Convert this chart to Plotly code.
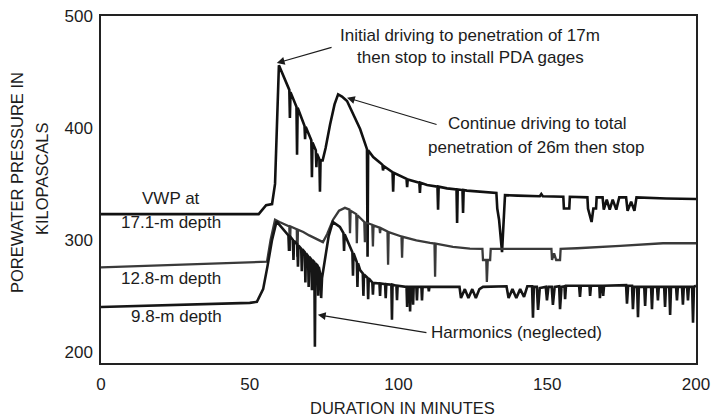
import plotly.graph_objects as go

# ---------------- data ----------------
x_ticks = [0, 50, 100, 150, 200]
y_ticks = [200, 300, 400, 500]

# VWP at 17.1-m depth
t17 = [0, 53, 55.5, 57.5, 58.5, 59.8,
       63.3, 63.5, 63.7, 65.7, 65.9, 66.1, 68.4, 68.6, 68.8, 70.7, 70.9, 71.1,
       72.2, 72.4, 72.6, 73.4, 73.6, 73.8, 74.5, 75.5, 77, 78.5, 79.7,
       81, 82.7, 84.7, 87.1, 89.4, 89.6, 89.8, 91.5, 93.8, 94.6, 94.8, 95,
       98, 98.2, 98.4, 102.7, 102.9, 103.1, 107, 107.2, 107.4, 109.6,
       113.1, 113.3, 113.5, 116.3, 119.5, 119.7, 119.9, 121.5, 121.7, 121.9,
       123, 130.8, 132.9, 133.2, 133.8, 134.8, 135.3, 135.8, 140, 147.5, 148, 148.5,
       155.4, 155.6, 157.4, 157.6, 163.5, 163.7, 164.9, 165.5, 166.4, 166.6,
       168.6, 169, 170, 171, 172, 173.2, 174.2, 176.5, 177, 178.2, 179.3, 180,
       190, 200]
p17 = [323, 323, 331, 332, 350, 456,
       434, 409, 432, 419, 376, 418, 402, 390, 401, 389, 356, 387,
       380, 365, 377, 372, 343, 371, 371, 382, 403, 421, 430,
       428, 424, 413, 399, 381, 285, 380, 374, 369, 367, 362, 366,
       360.5, 343, 360, 354.5, 347, 354, 351, 342, 351, 349,
       347.5, 327, 347.5, 346, 345, 315, 345, 344.5, 324, 344.5,
       344, 342, 342, 328, 318, 289, 315, 340, 339.5, 339, 341, 339,
       338.5, 328, 328, 338.5, 338, 328, 316, 328, 328, 338,
       338, 327, 336, 327, 336, 327, 338, 338, 326, 334, 326, 338,
       337, 336.5]

# 12.8-m depth
t12 = [0, 30, 50, 55.8, 57, 58.5, 60, 63.3, 63.5, 63.7, 65.8, 66, 66.2, 68, 70, 72,
       74.6, 76, 78, 80, 82, 83.5, 83.7, 83.9, 85.8, 86, 86.2, 88.5, 88.7, 88.9,
       90.4, 91.2, 91.4, 91.6, 93.6, 93.8, 94, 96.3, 96.5, 96.7, 101, 101.2, 101.4,
       106, 110.6, 112.1, 112.3, 112.5, 118.3, 124, 128.2, 128.4, 129.5, 129.7, 130,
       130.8, 131, 140, 147.6, 151.4, 151.6, 152.3, 153, 154.3, 154.5, 160, 174.5,
       188.9, 200]
p12 = [275.5, 278, 279.5, 280.5, 300, 318, 316, 312, 290, 312, 309.5, 285, 309, 307, 304, 301.5,
       298, 305, 318, 326, 328.6, 327, 306, 326, 323, 297, 322, 316, 298, 315.5,
       314.5, 313.5, 294, 313, 311, 306, 310.5, 307.5, 277.7, 307, 303, 284, 302.7,
       299.5, 297.3, 296.7, 267, 296.6, 293.8, 292.2, 292, 282, 282, 262.5, 282,
       282, 292, 292, 292, 292, 282, 288, 282, 282, 292, 292.5, 294.6,
       297, 297]

# 9.8-m depth
t9 = [0, 25, 50, 52.4, 54.5, 56, 57.5, 59,
      60.5, 61.5, 62.5, 63, 63.2, 63.4, 64.5, 64.7, 64.9, 66, 66.2, 66.4, 67.3, 67.5, 67.7,
      68.5, 68.7, 68.9, 69.6, 69.8, 70, 70.7, 70.9, 71.1, 71.7, 71.9, 72.1, 72.8, 73, 73.2,
      73.8, 74, 74.3, 75.5, 76.5, 77.9, 80.3, 81.5, 81.7, 81.9, 83.7, 84.5, 84.7, 84.9,
      86, 86.2, 86.4, 87.1, 88, 88.2, 88.4, 89.6, 89.8, 90, 91.2, 91.4, 91.6,
      93.6, 93.8, 94, 95.5, 95.7, 95.9, 97.6, 97.8, 98, 99.3, 99.5, 99.7, 101.5,
      102.7, 102.9, 103.1, 103.7, 103.9, 104.1, 104.7, 104.9, 105.1, 106, 106.2, 106.4,
      107.7, 107.9, 108.1, 110, 110.2, 110.4, 120.5, 121, 122.3, 123.5, 124.8, 126, 127.2,
      128.4, 136.3, 137, 138.3, 139.6, 140.9, 142.2, 143.3, 144.9, 145.2, 145.5, 146.5,
      146.9, 147.5, 149.5, 149.9, 150.4, 151.5, 151.9, 152.5, 154, 154.3, 154.8, 155.8,
      156, 156.3, 160.7, 161, 161.3, 164.2, 164.4, 164.7, 167.5, 167.7, 168, 168.6, 168.8,
      169.1, 176.5, 176.8, 177.2, 178.5, 178.8, 179.2, 180.2, 180.5, 180.8, 182.6, 182.9,
      183.2, 184.9, 185.2, 185.5, 186.9, 187.2, 187.5, 189.3, 189.6, 189.9, 191, 191.3,
      191.6, 193.3, 193.6, 193.9, 195.3, 195.6, 195.9, 197, 197.3, 197.6, 198.7, 199,
      199.3, 200]
p9 = [240, 242, 243.7, 244.6, 256, 277, 300, 316.5,
      312, 309, 306, 304, 290, 303.5, 300, 282, 299, 296, 276, 295, 292, 272, 291.5,
      289, 262, 288, 285.5, 258, 285, 282.5, 255, 282, 280, 204.5, 279, 277, 250, 276,
      268, 248, 266, 285, 303, 316, 311.6, 306, 290, 305, 294, 289, 268, 288,
      280, 258, 279, 273, 270, 250, 269, 266, 247, 265.5, 262, 251, 261.5,
      261, 250, 261, 260.5, 248, 260.5, 260, 228.6, 260, 259, 246, 259, 258,
      258, 240, 258, 258, 236, 258, 258, 242, 258, 258, 246, 258,
      258, 246, 258, 258, 254, 258, 258, 248, 256, 248, 256, 248, 256,
      258, 258.5, 248, 256, 248, 256, 249, 258.5, 258.5, 230.4, 258, 258,
      237.5, 257, 258, 246, 258, 258, 242, 258, 258.5, 238, 258, 258.5,
      247, 259, 259, 249, 259, 259, 250, 259, 259, 248, 259, 259, 250,
      259, 259.5, 243, 259, 259, 238, 258, 258, 231, 258, 258, 241,
      258, 258, 238, 258, 258, 246, 258, 258, 240, 258, 258, 233,
      258, 258, 246, 258, 258, 242, 258, 258, 246, 258, 258, 226,
      258, 259]

FONT = "Liberation Sans, Arial, sans-serif"
INK = "#1c1c1c"

fig = go.Figure()
fig.add_trace(go.Scatter(x=t17, y=p17, mode="lines", line=dict(color="#111111", width=2.6), showlegend=False))
fig.add_trace(go.Scatter(x=t12, y=p12, mode="lines", line=dict(color="#3a3a3a", width=2.3), showlegend=False))
fig.add_trace(go.Scatter(x=t9, y=p9, mode="lines", line=dict(color="#161616", width=2.6), showlegend=False))

fig.update_layout(
    width=713, height=417,
    margin=dict(l=101, r=17, t=16, b=54, autoexpand=False),
    paper_bgcolor="white", plot_bgcolor="white",
    font=dict(family=FONT, size=17, color=INK),
    showlegend=False,
)
fig.update_xaxes(range=[0, 200], tickvals=x_ticks, showgrid=False, zeroline=False,
                 showline=True, mirror=True, linecolor="#222222", linewidth=1.5,
                 automargin=False,
                 ticks="", ticklabelstandoff=5, tickfont=dict(size=17, family=FONT, color=INK))
fig.update_yaxes(range=[190, 500], tickvals=y_ticks, showgrid=False, zeroline=False,
                 showline=True, mirror=True, linecolor="#222222", linewidth=1.5,
                 automargin=False,
                 ticks="", ticklabelstandoff=3, tickfont=dict(size=17, family=FONT, color=INK))

def ptext(text, x, y, size=17, angle=0):
    fig.add_annotation(text=text, xref="paper", yref="paper", x=x, y=y,
                       xanchor="center", yanchor="middle", showarrow=False,
                       textangle=angle, font=dict(size=size, family=FONT, color=INK))

# axis titles
ptext("POREWATER PRESSURE IN", -0.1412, 0.5216, size=16.5, angle=-90)
ptext("KILOPASCALS", -0.0992, 0.5331, size=16.5, angle=-90)
ptext("DURATION IN MINUTES", 0.5059, -0.1297, size=16.5)

# callouts
ptext("Initial driving to penetration of 17m", 0.6202, 0.9452)
ptext("then stop to install PDA gages", 0.6202, 0.8790)
ptext("Continue driving to total", 0.7336, 0.6916)
ptext("penetration of 26m then stop", 0.7319, 0.6196)
ptext("VWP at", 0.1176, 0.4755)
ptext("17.1-m depth", 0.1176, 0.4035)
ptext("12.8-m depth", 0.1176, 0.2421)
ptext("9.8-m depth", 0.1261, 0.1326)
ptext("Harmonics (neglected)", 0.6983, 0.0865)

def arrow(x, y, ax, ay):
    fig.add_annotation(text="", x=x, y=y, ax=ax, ay=ay, xref="x", yref="y",
                       axref="x", ayref="y", showarrow=True, arrowhead=2,
                       arrowsize=1.3, arrowwidth=1.2, arrowcolor=INK, standoff=0)

arrow(59.1, 458, 78, 472.3)
arrow(82.7, 427, 113.3, 402.7)
arrow(72.9, 233, 109.9, 217)

# remove the browser's default 8 px page margin so the figure sits at the corner
fig.write_html("out.html", config={"displayModeBar": False},
               post_script="document.body.style.margin='0';")
